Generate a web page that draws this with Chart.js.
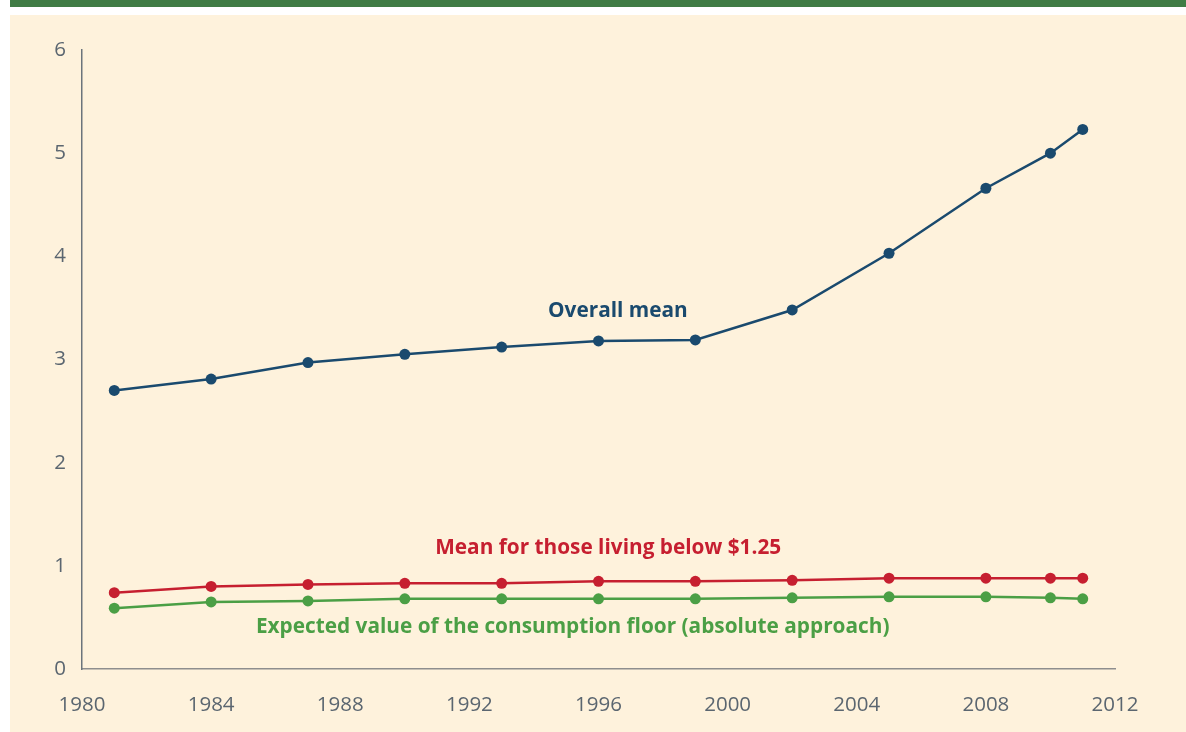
<!DOCTYPE html>
<html>
<head>
<meta charset="utf-8">
<script src="https://cdn.jsdelivr.net/npm/chart.js@4.4.1/dist/chart.umd.min.js"></script>
<style>
  html, body { margin: 0; padding: 0; background: #ffffff; width: 1186px; height: 732px; overflow: hidden; }
  #bar { position: absolute; left: 10px; top: 0; width: 1176px; height: 7px; background: #407c45; }
  #panel { position: absolute; left: 10px; top: 15px; width: 1176px; height: 717px; background: #fef2dc; }
  #wrap { position: absolute; left: 0; top: 0; width: 1186px; height: 732px; }
</style>
</head>
<body>
<div id="bar"></div>
<div id="panel"></div>
<div id="wrap"><canvas id="c" width="1186" height="732"></canvas></div>
<script>
// ---- data ----
const years = [1981, 1984, 1987, 1990, 1993, 1996, 1999, 2002, 2005, 2008, 2010, 2011];
const overallMean = [2.70, 2.81, 2.97, 3.05, 3.12, 3.18, 3.19, 3.48, 4.03, 4.66, 5.00, 5.23];
const meanBelow125 = [0.74, 0.80, 0.82, 0.83, 0.83, 0.85, 0.85, 0.86, 0.88, 0.88, 0.88, 0.88];
const consumptionFloor = [0.59, 0.65, 0.66, 0.68, 0.68, 0.68, 0.68, 0.69, 0.70, 0.70, 0.69, 0.68];
const xTicks = [1980, 1984, 1988, 1992, 1996, 2000, 2004, 2008, 2012];
const yTicks = [0, 1, 2, 3, 4, 5, 6];
const seriesNames = ["Overall mean", "Mean for those living below $1.25", "Expected value of the consumption floor (absolute approach)"];
const labelPositions = [ {x: 1996.6, y: 3.47}, {x: 1996.3, y: 1.17}, {x: 1995.2, y: 0.41} ];

const colors = ["#1a4a6e", "#c61f30", "#4b9f45"];

function toXY(ys) { return years.map((yr, i) => ({x: yr, y: ys[i]})); }

const labelPlugin = {
  id: 'seriesLabels',
  afterDatasetsDraw(chart) {
    const ctx = chart.ctx;
    const xs = chart.scales.x, ys = chart.scales.y;
    ctx.save();
    ctx.font = 'bold 20.8px "Open Sans"';
    ctx.textAlign = 'center';
    ctx.textBaseline = 'middle';
    seriesNames.forEach((name, i) => {
      ctx.fillStyle = colors[i];
      ctx.fillText(name, xs.getPixelForValue(labelPositions[i].x), ys.getPixelForValue(labelPositions[i].y));
    });
    ctx.restore();
  }
};

const mk = (ys, i) => ({
  label: seriesNames[i],
  data: toXY(ys),
  borderColor: colors[i],
  backgroundColor: colors[i],
  borderWidth: 2.5,
  pointRadius: 5.5,
  pointBorderWidth: 0,
  pointHoverRadius: 5.5,
  tension: 0
});

new Chart(document.getElementById('c'), {
  type: 'line',
  data: { datasets: [mk(overallMean, 0), mk(meanBelow125, 1), mk(consumptionFloor, 2)] },
  options: {
    responsive: false,
    animation: false,
    events: [],
    layout: { padding: { left: 0, top: 50, right: 71, bottom: 0 } },
    plugins: { legend: { display: false }, tooltip: { enabled: false } },
    scales: {
      x: {
        type: 'linear',
        min: 1980, max: 2012,
        afterBuildTicks: s => { s.ticks = xTicks.map(v => ({value: v})); },
        afterFit: s => { s.height = 63; },
        grid: { display: false, drawTicks: false },
        border: { display: true, color: '#8e8e8e', width: 1.5 },
        ticks: { color: '#5b6670', font: { family: '"Open Sans"', size: 20.5 }, padding: 24, maxRotation: 0, callback: v => String(v) }
      },
      y: {
        min: 0, max: 6,
        afterBuildTicks: s => { s.ticks = yTicks.map(v => ({value: v})); },
        afterFit: s => { s.width = 82; },
        grid: { display: false, drawTicks: false },
        border: { display: true, color: '#6b747c', width: 1.5 },
        ticks: { color: '#5b6670', font: { family: '"Open Sans"', size: 20.5 }, padding: 16 }
      }
    }
  },
  plugins: [labelPlugin]
});
</script>
</body>
</html>
